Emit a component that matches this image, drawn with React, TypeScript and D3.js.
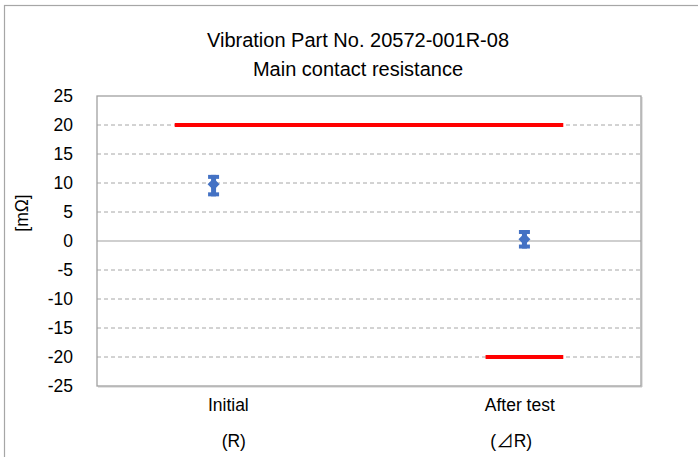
import React from "react";
import * as d3 from "d3";

const W = 698;
const H = 457;

const titleLines = ["Vibration Part No. 20572-001R-08", "Main contact resistance"];
const yTicks = [25, 20, 15, 10, 5, 0, -5, -10, -15, -20, -25];
const yLabel = "[mΩ]";

// points (x in chart units)
const pointX = [1.5, 5.5];
const pointMean = [9.8, 0.3];
const pointMin = [7.7, -1.3];
const pointMax = [11.4, 1.9];

// limit lines
const limitX1 = [1, 5];
const limitX2 = [6, 6];
const limitY = [20, -20];

const catLabels = ["Initial", "After test"];
const catLabelX = [1.69, 5.44];
const subLabelX = [1.76, 5.33];

export default function App() {
  const left = 97, right = 641, top = 96, bottom = 386;
  const x = d3.scaleLinear().domain([0, 7]).range([left, right]);
  const y = d3.scaleLinear().domain([-25, 25]).range([bottom, top]);
  const font = "'Liberation Sans', Arial, sans-serif";
  const blue = "#4472C4";

  return (
    <svg width={W} height={H} style={{ position: "absolute", left: 0, top: 0, background: "#fff" }}>
      <rect x={0} y={0} width={W} height={H} fill="#fff" />
      <rect x={4.5} y={5.5} width={W + 20} height={H + 20} fill="#fff" stroke="#a6a6a6" strokeWidth={1.2} />
      {titleLines.map((t, i) => (
        <text key={t} x={358} y={47 + i * 29} textAnchor="middle" fontFamily={font} fontSize={20} fill="#000">
          {t}
        </text>
      ))}
      {/* gridlines */}
      {yTicks.filter((v) => v !== 25 && v !== -25).map((v) => (
        <line
          key={v}
          x1={left}
          x2={right}
          y1={y(v)}
          y2={y(v)}
          stroke={v === 0 ? "#bfbfbf" : "#a6a6a6"}
          strokeWidth={v === 0 ? 1.6 : 1}
          strokeDasharray={v === 0 ? undefined : "4 3"}
        />
      ))}
      {/* plot border */}
      <line x1={right + 1} x2={right + 1} y1={top + 1} y2={bottom + 1} stroke="#c8c8c8" strokeWidth={1} />
      <line x1={left + 1} x2={right + 1} y1={bottom + 1} y2={bottom + 1} stroke="#c8c8c8" strokeWidth={1} />
      <rect x={left} y={top} width={right - left} height={bottom - top} fill="none" stroke="#a0a0a0" strokeWidth={1.3} />
      {/* y tick labels */}
      {yTicks.map((v) => (
        <text key={v} x={73} y={y(v)} dy="0.37em" textAnchor="end" fontFamily={font} fontSize={17.5} fill="#000">
          {v}
        </text>
      ))}
      <text
        transform={`translate(28,213) rotate(-90)`}
        textAnchor="middle"
        fontFamily={font}
        fontSize={17.5}
        fill="#000"
      >
        {yLabel}
      </text>
      {/* limit lines */}
      {limitY.map((v, i) => (
        <line key={i} x1={x(limitX1[i])} x2={x(limitX2[i])} y1={y(v)} y2={y(v)} stroke="#ff0000" strokeWidth={4} />
      ))}
      {/* error bars + markers */}
      {pointX.map((px, i) => {
        const cx = x(px);
        const d = 6;
        return (
          <g key={i}>
            <line x1={cx} x2={cx} y1={y(pointMin[i])} y2={y(pointMax[i])} stroke={blue} strokeWidth={5} />
            <line x1={cx - 5.5} x2={cx + 5.5} y1={y(pointMin[i]) - 2} y2={y(pointMin[i]) - 2} stroke={blue} strokeWidth={4} />
            <line x1={cx - 5.5} x2={cx + 5.5} y1={y(pointMax[i]) + 2} y2={y(pointMax[i]) + 2} stroke={blue} strokeWidth={4} />
            <path
              d={`M${cx},${y(pointMean[i]) - d}L${cx + d},${y(pointMean[i])}L${cx},${y(pointMean[i]) + d}L${cx - d},${y(pointMean[i])}Z`}
              fill={blue}
            />
          </g>
        );
      })}
      {/* category labels */}
      {catLabels.map((t, i) => (
        <text key={t} x={x(catLabelX[i])} y={411} textAnchor="middle" fontFamily={font} fontSize={17.5} fill="#000">
          {t}
        </text>
      ))}
      <text x={x(subLabelX[0])} y={447} textAnchor="middle" fontFamily={font} fontSize={17.5} fill="#000">
        (R)
      </text>
      <text x={x(subLabelX[1])} y={447} textAnchor="middle" fontFamily={font} fontSize={17.5} fill="#000">
        (<tspan fontFamily="'Noto Sans CJK JP', sans-serif">⊿</tspan>R)
      </text>
    </svg>
  );
}
